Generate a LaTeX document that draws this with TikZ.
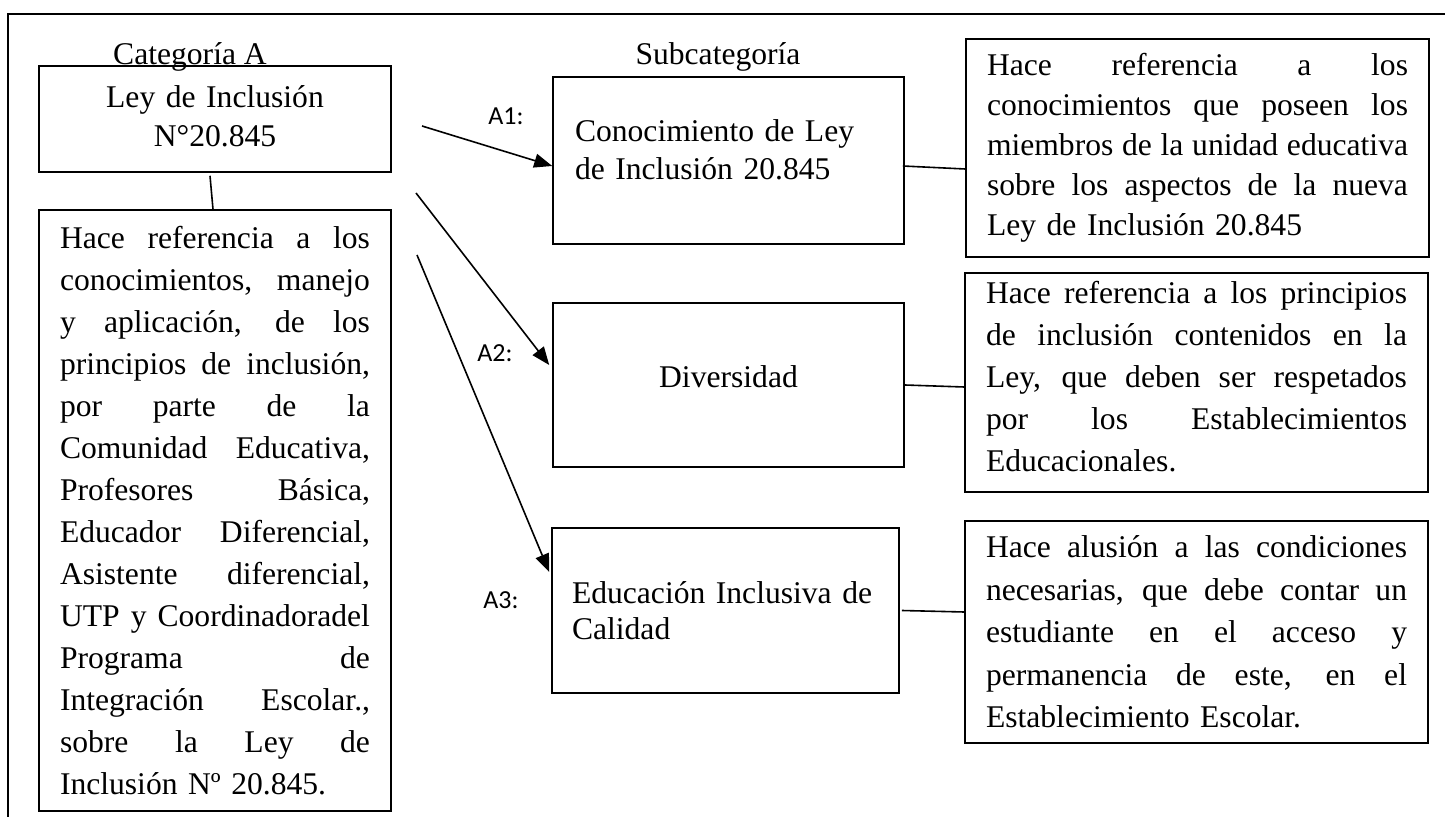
\documentclass[tikz,border=0pt]{standalone}
\usepackage{fontspec}
\setmainfont{Liberation Serif}
\newfontfamily\calib{Carlito}
\usetikzlibrary{arrows.meta}
\newcommand{\jla}[1]{\makebox[155pt][s]{\spaceskip=0pt\xspaceskip=0pt #1}\\}
\newcommand{\jlb}[1]{\makebox[210.5pt][s]{\spaceskip=0pt\xspaceskip=0pt #1}\\}
\newcommand{\lift}[1]{\rule[-#1]{0pt}{0pt}}
\hbadness=10000
\begin{document}
\begin{tikzpicture}[x=0.5pt,y=-0.5pt,
  box/.style={draw, line width=0.8pt, inner sep=0pt, align=left},
  arr/.style={line width=0.8pt, -{Triangle[length=9pt,width=7pt]}},
  conn/.style={line width=0.8pt},
  frameline/.style={line width=0.9pt},
  lab/.style={font=\calib\fontsize{13}{15}\selectfont, inner sep=0pt, anchor=base west},
  head/.style={font=\fontsize{15.8}{19}\selectfont, inner sep=0pt, anchor=base},
]
\useasboundingbox (0,0) rectangle (1445,817);
\draw[frameline] (8,817) -- (8,14) -- (1445,14);

\node[head] (cat) at (190,65) {Categoría A};
\node[head] (sub) at (718,65) {Subcategoría};

\node[box, minimum width=176pt, minimum height=53pt, text width=170pt, align=center,
  font=\fontsize{15.8}{19.5}\selectfont] (ley) at (215,119) {Ley de Inclusión\\N°20.845\lift{3pt}};

\node[box, minimum width=176pt, minimum height=300.5pt, text width=155pt,
  font=\fontsize{15.8}{21}\selectfont] (desc) at (215,510.5)
  {\jla{Hace referencia a los}\jla{conocimientos, manejo}\jla{y aplicación, de los}\jla{principios de inclusión,}\jla{por parte de la}\jla{Comunidad Educativa,}\jla{Profesores Básica,}\jla{Educador Diferencial,}\jla{Asistente diferencial,}\jla{UTP y Coordinadoradel}\jla{Programa de}\jla{Integración Escolar.,}\jla{sobre la Ley de}Inclusión Nº 20.845.};

\node[box, minimum width=175.5pt, minimum height=83.5pt, text width=153.5pt,
  font=\fontsize{15.8}{19}\selectfont] (a1) at (728.5,160.5)
  {Conocimiento de Ley\\de Inclusión 20.845\lift{11pt}};
\node[box, minimum width=175.5pt, minimum height=82pt, text width=153.5pt, align=center,
  font=\fontsize{15.8}{19}\selectfont] (a2) at (728.5,385)
  {Diversidad\lift{8pt}};
\node[box, minimum width=173.5pt, minimum height=82.5pt, text width=153.5pt,
  font=\fontsize{15.8}{18}\selectfont] (a3) at (725.5,610.5)
  {Educación Inclusiva de\\Calidad};

\node[box, minimum width=231.5pt, minimum height=109pt, text width=210.5pt,
  font=\fontsize{15.8}{20}\selectfont] (r1) at (1197.5,148)
  {\jlb{Hace referencia a los}\jlb{conocimientos que poseen los}\jlb{miembros de la unidad educativa}\jlb{sobre los aspectos de la nueva}Ley de Inclusión 20.845};
\node[box, minimum width=231.5pt, minimum height=109.5pt, text width=210.5pt,
  font=\fontsize{15.8}{21}\selectfont] (r2) at (1196.5,382.5)
  {\jlb{Hace referencia a los principios}\jlb{de inclusión contenidos en la}\jlb{Ley, que deben ser respetados}\jlb{por los Establecimientos}Educacionales.\lift{6pt}};
\node[box, minimum width=231.5pt, minimum height=111pt, text width=210.5pt,
  font=\fontsize{15.8}{21.25}\selectfont] (r3) at (1196.5,632)
  {\jlb{Hace alusión a las condiciones}\jlb{necesarias, que debe contar un}\jlb{estudiante en el acceso y}\jlb{permanencia de este, en el}Establecimiento Escolar.};

\node[lab] (l1) at (488,125) {A1:};
\node[lab] (l2) at (477,362) {A2:};
\node[lab] (l3) at (483,608) {A3:};

\coordinate (s1) at (422,126);
\coordinate (s2) at (416,193);
\coordinate (s3) at (417,255);
\draw[arr] (s1) -- ([yshift=-2.75pt]a1.west);
\draw[arr] (s2) -- ([xshift=-1.5pt,yshift=10pt]a2.west);
\draw[arr] (s3) -- ([xshift=-1pt,yshift=19.25pt]a3.west);

\draw[conn] ([xshift=-2.5pt,yshift=-1.5pt]ley.south) -- ([xshift=-1pt]desc.north);
\draw[conn] ([xshift=-1pt,yshift=-2.75pt]a1.east) -- ([yshift=-10.5pt]r1.west);
\draw[conn] (a2.east) -- ([yshift=-2.25pt]r2.west);
\draw[conn] ([xshift=1pt]a3.east) -- ([yshift=10pt]r3.west);
\end{tikzpicture}
\end{document}
